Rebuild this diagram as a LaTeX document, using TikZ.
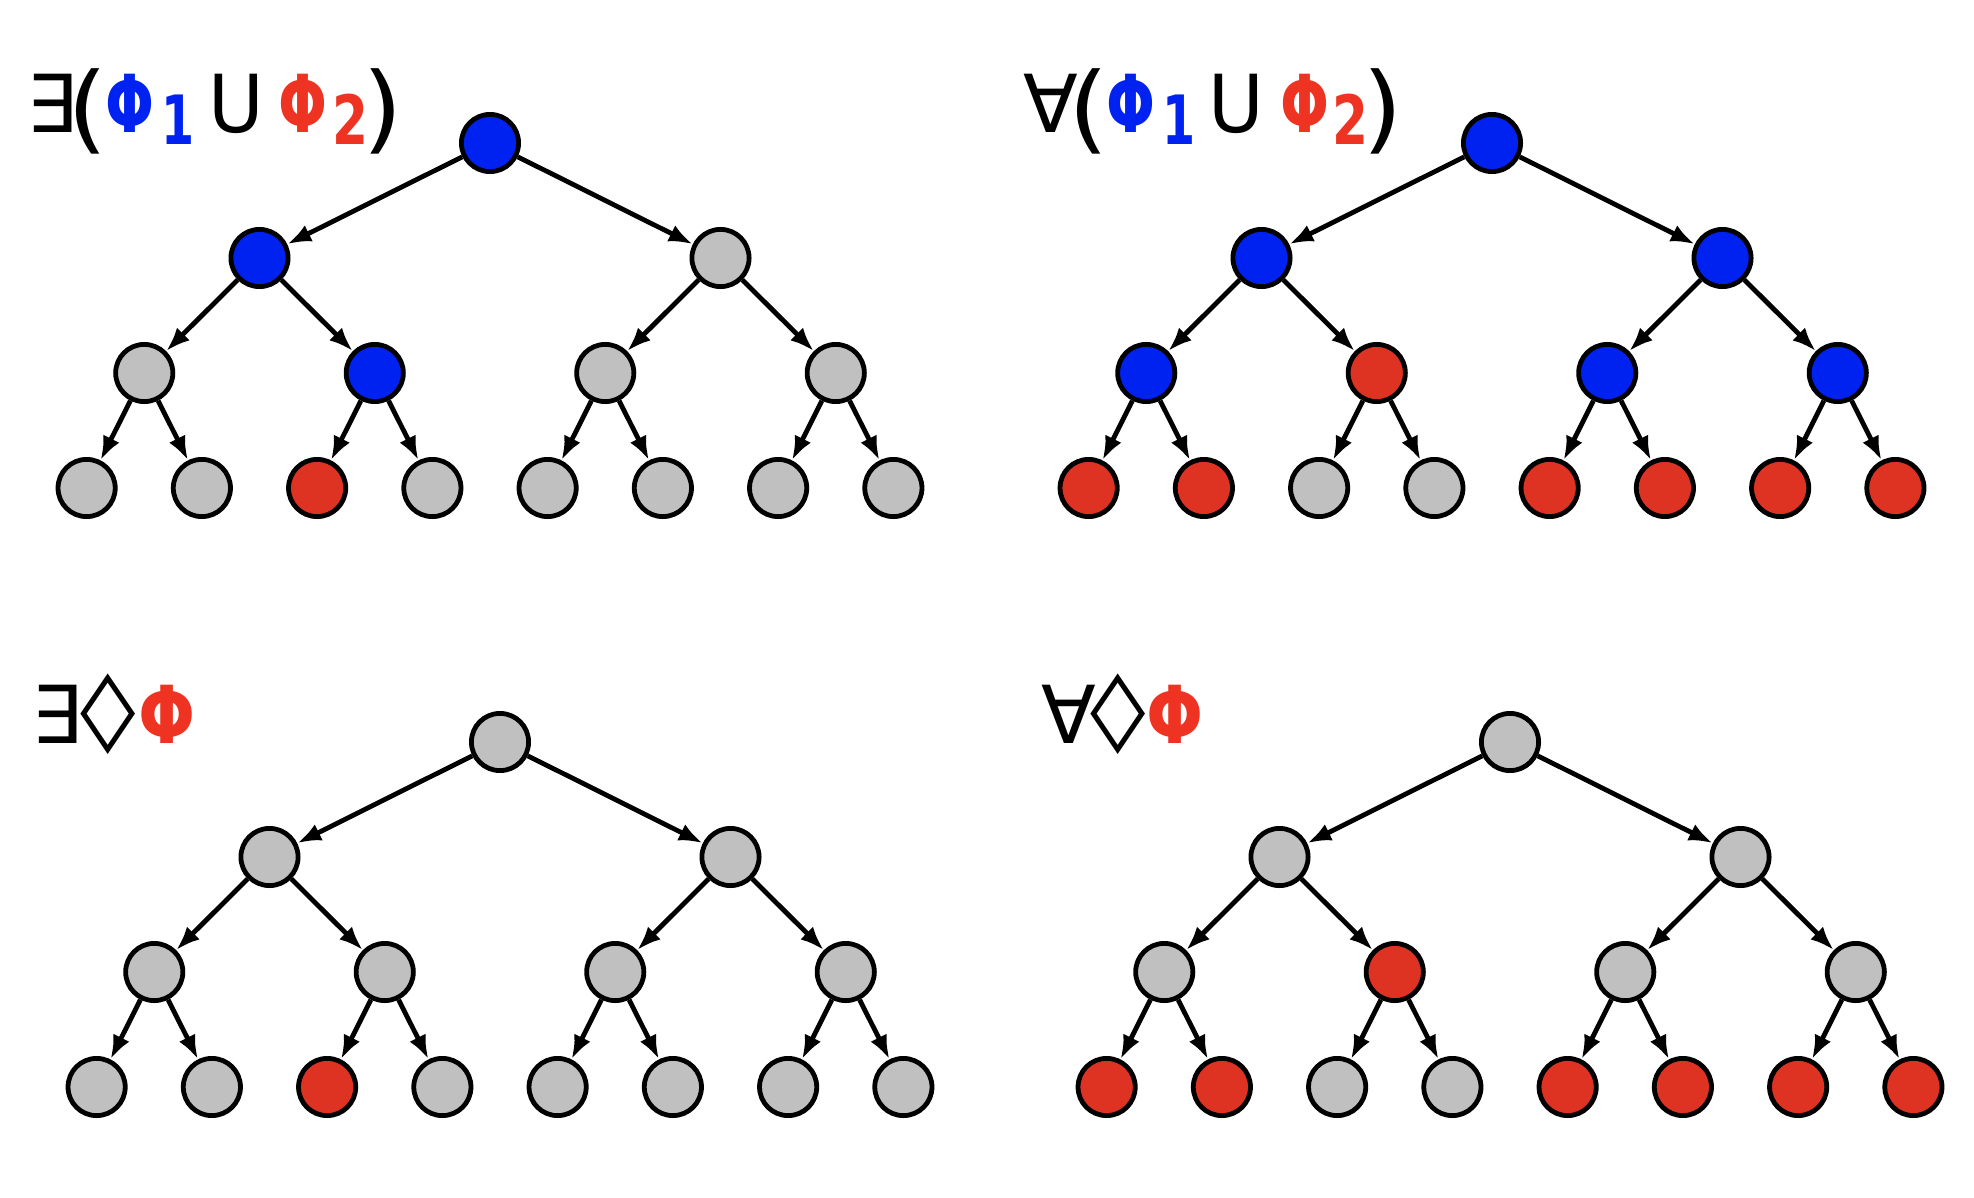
\documentclass[tikz,border=0pt]{standalone}
\usepackage{fontspec}
\setmainfont{DejaVu Sans}
\usetikzlibrary{arrows.meta}
\definecolor{nblue}{RGB}{0,34,240}
\definecolor{nred}{RGB}{222,50,34}
\definecolor{ngray}{RGB}{192,192,192}
\definecolor{tblue}{RGB}{0,34,240}
\definecolor{tred}{RGB}{238,51,34}
% glyph centred at #1 px from the label start
\newcommand\cg[2]{\rlap{\hspace*{\dimexpr #1pt/2\relax}\makebox[0pt]{#2}}}
\newcommand\sbx[2]{\raisebox{-6pt}{\fontsize{34}{40}\selectfont\bfseries\scalebox{#1}[1]{#2}}}
\newcommand\bigpar[1]{\raisebox{-4.5pt}{\scalebox{1.3}[1.2]{#1}}}
\newcommand\phib[1]{\textbf{\scalebox{#1}[1]{Φ}}}
\newcommand\loz{\raisebox{3.5pt}{\bfseries\scalebox{1.4}[0.97]{◊}}}
\newcommand\drawtree[4]{%
  \foreach [count=\i] \c in {#4} {
    \pgfmathtruncatemacro\lev{(\i>=2)+(\i>=4)+(\i>=8)}
    \pgfmathtruncatemacro\pw{2^\lev}
    \pgfmathsetmacro\xx{#2+(\i-\pw+0.5)*922/\pw-461}
    \pgfmathsetmacro\yy{#3+115*\lev}
    \node[tn, fill=\c] (#1\i) at (\xx,\yy) {};
  }
  \foreach \i in {1,...,7} {
    \pgfmathtruncatemacro\a{2*\i}
    \pgfmathtruncatemacro\b{2*\i+1}
    \draw[edge] (#1\i) -- (#1\a);
    \draw[edge] (#1\i) -- (#1\b);
  }
}
\begin{document}
\begin{tikzpicture}[x=0.5pt,y=-0.5pt,
  tn/.style={circle, draw=black, line width=2.4pt, minimum size=28.6pt, inner sep=0pt},
  edge/.style={line width=2.4pt, -{Latex[length=12pt,width=9pt]}},
  lbl/.style={anchor=base west, inner sep=0pt, font=\fontsize{40}{48}\selectfont}]
\useasboundingbox (0,0) rectangle (1974,1198);
\drawtree{A}{490}{143}{nblue,nblue,ngray,ngray,nblue,ngray,ngray,ngray,ngray,nred,ngray,ngray,ngray,ngray,ngray}
\drawtree{B}{1492}{143}{nblue,nblue,nblue,nblue,nred,nblue,nblue,nred,nred,ngray,ngray,nred,nred,nred,nred}
\drawtree{C}{500}{742}{ngray,ngray,ngray,ngray,ngray,ngray,ngray,ngray,ngray,nred,ngray,ngray,ngray,ngray,ngray}
\drawtree{D}{1510}{742}{ngray,ngray,ngray,ngray,nred,ngray,ngray,nred,nred,ngray,ngray,nred,nred,nred,nred}
\node[lbl] (la) at (30,133) {\cg{21}{∃}\cg{57.5}{\bigpar{(}}\cg{99.5}{\color{tblue}\phib{0.72}}\cg{147.5}{\color{tblue}\sbx{0.7}{1}}\cg{205.5}{\scalebox{0.95}[1]{U}}\cg{272.5}{\color{tred}\phib{0.72}}\cg{320}{\color{tred}\sbx{0.76}{2}}\cg{352.5}{\bigpar{)}}\hspace*{182pt}};
\node[lbl] (lb) at (1025,133) {\cg{25}{∀}\cg{63.5}{\bigpar{(}}\cg{106}{\color{tblue}\phib{0.72}}\cg{153.5}{\color{tblue}\sbx{0.7}{1}}\cg{210.5}{\scalebox{0.95}[1]{U}}\cg{279.5}{\color{tred}\phib{0.72}}\cg{325.5}{\color{tred}\sbx{0.76}{2}}\cg{357.5}{\bigpar{)}}\hspace*{184pt}};
\node[lbl] (lc) at (38,743) {\cg{18.5}{∃}\cg{70}{\loz}\cg{128.5}{\color{tred}\phib{0.84}}\hspace*{78pt}};
\node[lbl] (ld) at (1043,743) {\cg{25}{∀}\cg{75}{\loz}\cg{132}{\color{tred}\phib{0.84}}\hspace*{80pt}};
\end{tikzpicture}
\end{document}
